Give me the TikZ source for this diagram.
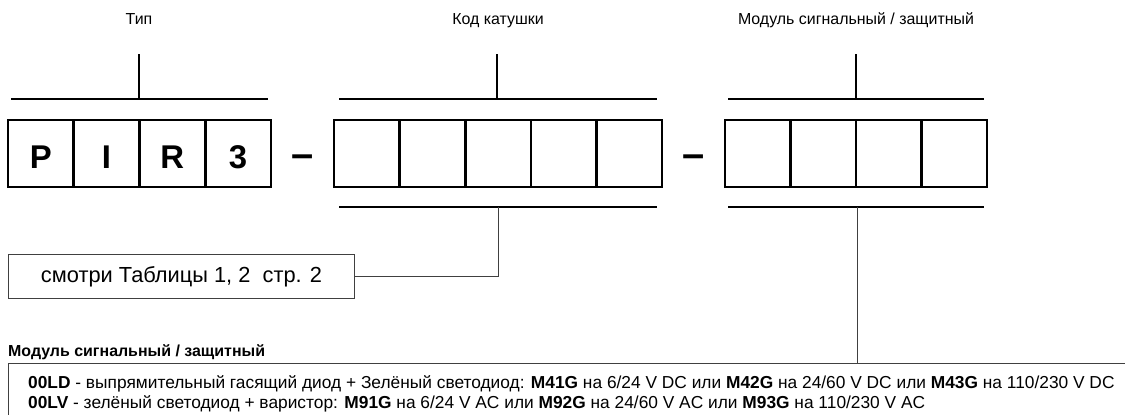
\documentclass[tikz,border=0pt]{standalone}
\usepackage{fontspec}
\setmainfont{Liberation Sans}
\begin{document}
\begin{tikzpicture}[x=1bp,y=-1bp,
  cell/.style={draw, line width=2.6bp, minimum width=65.6bp, minimum height=67bp,
    inner sep=0pt, outer sep=0pt, anchor=north west},
  letter/.style={inner sep=0pt, yshift=-4bp, font=\bfseries\fontsize{33}{33}\selectfont},
  bar/.style={line width=1.3bp},
  thinline/.style={line width=0.9bp, black!75},
  lbl/.style={inner sep=0pt, anchor=base, font=\fontsize{16}{16}\selectfont},
  dashsym/.style={inner sep=0pt, font=\bfseries\fontsize{40}{40}\selectfont},
  txt/.style={inner sep=0pt, anchor=base west, font=\fontsize{17.4}{17.4}\selectfont}
]
\useasboundingbox (0,0) rectangle (1125,414);
% group 1
\foreach \t [count=\i from 0] in {P,I,R,3}{
  \node[cell] (a\i) at (8+\i*65.75,120) {};
  \node[letter] (p\i) at (a\i.center) {\t};
}
% group 2
\foreach \i in {0,...,4}
  \node[cell] (b\i) at (334+\i*65.6,120) {};
% group 3
\foreach \i in {0,...,3}
  \node[cell] (c\i) at (725+\i*65.5,120) {};
% dashes
\node[dashsym] (d1) at (302.5,161) {–};
\node[dashsym] (d2) at (694,161) {–};
% top labels
\node[lbl] (l1) at (139,24.5) {Тип};
\node[lbl] (l2) at (498,24.5) {Код катушки};
\node[lbl] (l3) at (856,24.5) {Модуль сигнальный / защитный};
% top brackets
\coordinate (t1l) at (11,99);  \coordinate (t1r) at (268,99);
\coordinate (t1m) at (139,99); \coordinate (t1u) at (139,54);
\coordinate (t2l) at (339,99); \coordinate (t2r) at (657,99);
\coordinate (t2m) at (497,99); \coordinate (t2u) at (497,54);
\coordinate (t3l) at (728,99); \coordinate (t3r) at (984,99);
\coordinate (t3m) at (856,99); \coordinate (t3u) at (856,54);
\draw[bar] (t1l) -- (t1r) (t1m) -- (t1u);
\draw[bar] (t2l) -- (t2r) (t2m) -- (t2u);
\draw[bar] (t3l) -- (t3r) (t3m) -- (t3u);
% bottom brackets
\coordinate (b2l) at (339,207); \coordinate (b2r) at (657,207);
\coordinate (b2m) at (498,207);
\coordinate (b3l) at (728,207); \coordinate (b3r) at (984,207);
\coordinate (b3m) at (857,207);
\draw[bar] (b2l) -- (b2r);
\draw[bar] (b3l) -- (b3r);
% reference box
\node[draw, thinline, minimum width=346bp, minimum height=44bp, inner sep=0pt,
  anchor=north west, text=black, font=\fontsize{21.9}{21.9}\selectfont] (see) at (8,254) {смотри Таблицы 1, 2\ \ стр. 2};
\draw[thinline] (b2m) |- (see.east);
% legend
\node[inner sep=0pt, anchor=base west, font=\bfseries\fontsize{16}{16}\selectfont] (hdr) at (8,356)
  {Модуль сигнальный / защитный};
\coordinate (legtop) at (857,363.5);
\begin{scope}
\clip (0,0) rectangle (1125,414);
\draw[thinline] (8.3,430) |- (1140,363.5);
\end{scope}
\draw[thinline] (b3m) -- (legtop);
\node[txt] (ln1) at (28,388.5) {\textbf{00LD} - выпрямительный гасящий диод + Зелёный светодиод: \textbf{M41G} на 6/24 V DC или \textbf{M42G} на 24/60 V DC или \textbf{M43G} на 110/230 V DC};
\node[txt] (ln2) at (28,408) {\textbf{00LV} - зелёный светодиод + варистор: \textbf{M91G} на 6/24 V AC или \textbf{M92G} на 24/60 V AC или \textbf{M93G} на 110/230 V AC};
\end{tikzpicture}
\end{document}
